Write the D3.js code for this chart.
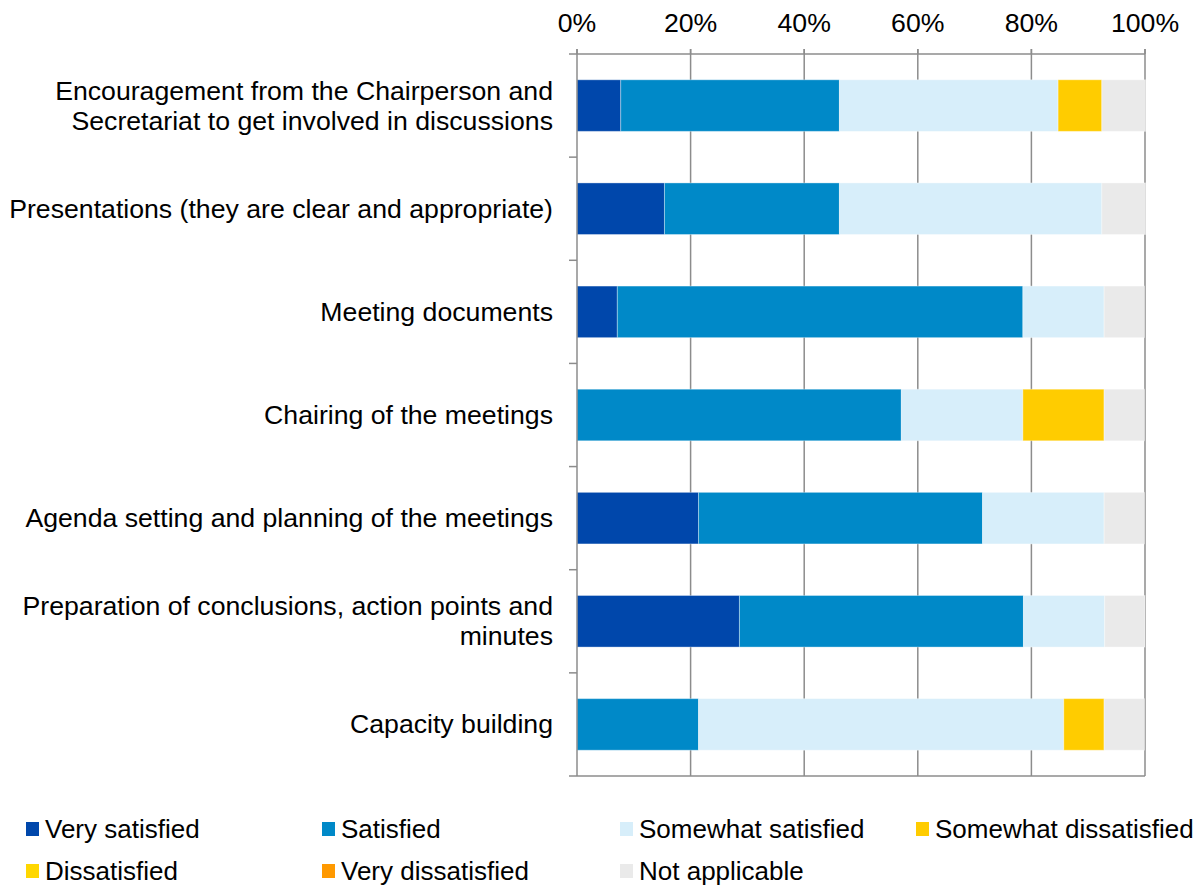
<!DOCTYPE html>
<html>
<head>
<meta charset="utf-8">
<script src="https://cdn.jsdelivr.net/npm/d3@7"></script>
<style>
  body { margin: 0; background: #fff; }
  text { font-family: "Liberation Sans", Arial, sans-serif; fill: #000; }
</style>
</head>
<body>
<script>
// categories (top to bottom), label lines
var categories = [
  ["Encouragement from the Chairperson and", "Secretariat to get involved in discussions"],
  ["Presentations (they are clear and appropriate)"],
  ["Meeting documents"],
  ["Chairing of the meetings"],
  ["Agenda setting and planning of the meetings"],
  ["Preparation of conclusions, action points and", "minutes"],
  ["Capacity building"]
];

var seriesNames = ["Very satisfied", "Satisfied", "Somewhat satisfied", "Somewhat dissatisfied",
                   "Dissatisfied", "Very dissatisfied", "Not applicable"];
var seriesColors = ["#0047ab", "#0089c8", "#d7eefa", "#ffcc00", "#ffd700", "#ff9900", "#eaeaea"];

// percentages per series, one value per category
var verySatisfied        = [7.7, 15.4, 7.1, 0, 21.4, 28.6, 0];
var satisfied            = [38.5, 30.8, 71.4, 57.1, 50.0, 50.0, 21.4];
var somewhatSatisfied    = [38.5, 46.2, 14.3, 21.4, 21.4, 14.3, 64.3];
var somewhatDissatisfied = [7.7, 0, 0, 14.3, 0, 0, 7.1];
var dissatisfied         = [0, 0, 0, 0, 0, 0, 0];
var veryDissatisfied     = [0, 0, 0, 0, 0, 0, 0];
var notApplicable        = [7.7, 7.7, 7.1, 7.1, 7.1, 7.1, 7.1];

var xTicks = [0, 20, 40, 60, 80, 100];

var seriesValues = [verySatisfied, satisfied, somewhatSatisfied, somewhatDissatisfied,
                    dissatisfied, veryDissatisfied, notApplicable];

var rows = categories.map(function (c, i) {
  var r = { idx: i };
  seriesNames.forEach(function (s, j) { r[s] = seriesValues[j][i]; });
  return r;
});

var width = 1203, height = 887;
var plotLeft = 577, plotRight = 1145, plotTop = 54, plotBottom = 776;
var axisColor = "#8c8c8c";
var fontSize = "26.67px";

var svg = d3.select("body").append("svg").attr("width", width).attr("height", height);

var x = d3.scaleLinear().domain([0, 100]).range([plotLeft, plotRight]);
var y = d3.scaleBand().domain(d3.range(categories.length)).range([plotTop, plotBottom])
          .paddingInner(0.5).paddingOuter(0.25);

// gridlines
svg.selectAll("line.grid")
  .data(xTicks.slice(1))
  .enter().append("line")
  .attr("class", "grid")
  .attr("x1", function (d) { return x(d); })
  .attr("x2", function (d) { return x(d); })
  .attr("y1", plotTop - 5)
  .attr("y2", plotBottom)
  .attr("stroke", axisColor)
  .attr("stroke-width", 1.5);

// stacked bars
var stack = d3.stack().keys(seriesNames)(rows);

svg.selectAll("g.series")
  .data(stack)
  .enter().append("g")
  .attr("class", "series")
  .attr("fill", function (d, i) { return seriesColors[i]; })
  .selectAll("rect")
  .data(function (d) { return d.filter(function (p) { return p[1] - p[0] > 0; }); })
  .enter().append("rect")
  .attr("x", function (d) { return x(d[0]); })
  .attr("y", function (d) { return y(d.data.idx); })
  .attr("width", function (d) { return x(d[1]) - x(d[0]); })
  .attr("height", y.bandwidth())
  .attr("stroke", "#ffffff")
  .attr("stroke-opacity", 0.35)
  .attr("stroke-width", 1);

// top axis line and ticks
svg.append("line")
  .attr("x1", plotLeft).attr("x2", plotRight).attr("y1", plotTop).attr("y2", plotTop)
  .attr("stroke", axisColor).attr("stroke-width", 1.5);
svg.selectAll("line.xtick")
  .data(xTicks)
  .enter().append("line")
  .attr("class", "xtick")
  .attr("x1", function (d) { return x(d); })
  .attr("x2", function (d) { return x(d); })
  .attr("y1", plotTop - 5).attr("y2", plotTop)
  .attr("stroke", axisColor).attr("stroke-width", 1.5);

svg.selectAll("text.xlabel")
  .data(xTicks)
  .enter().append("text")
  .attr("class", "xlabel")
  .attr("x", function (d) { return x(d); })
  .attr("y", 32)
  .attr("text-anchor", "middle")
  .attr("font-size", fontSize)
  .text(function (d) { return d + "%"; });

// bottom line
svg.append("line")
  .attr("x1", plotLeft).attr("x2", plotRight).attr("y1", plotBottom).attr("y2", plotBottom)
  .attr("stroke", axisColor).attr("stroke-width", 1.5);

// left axis with category boundary ticks
svg.append("line")
  .attr("x1", plotLeft).attr("x2", plotLeft).attr("y1", plotTop - 5).attr("y2", plotBottom)
  .attr("stroke", axisColor).attr("stroke-width", 1.5);
var step = (plotBottom - plotTop) / categories.length;
svg.selectAll("line.ytick")
  .data(d3.range(categories.length + 1))
  .enter().append("line")
  .attr("class", "ytick")
  .attr("x1", plotLeft - 8).attr("x2", plotLeft)
  .attr("y1", function (d) { return plotTop + d * step; })
  .attr("y2", function (d) { return plotTop + d * step; })
  .attr("stroke", axisColor).attr("stroke-width", 1.5);

// category labels
var labels = svg.selectAll("text.ylabel")
  .data(categories)
  .enter().append("text")
  .attr("class", "ylabel")
  .attr("text-anchor", "end")
  .attr("font-size", fontSize);

labels.selectAll("tspan")
  .data(function (d, i) {
    return d.map(function (line, k) { return { line: line, k: k, n: d.length, i: i }; });
  })
  .enter().append("tspan")
  .attr("x", 553)
  .attr("y", function (d) {
    var c = y(d.i) + y.bandwidth() / 2;
    return c + (d.k - (d.n - 1) / 2) * 30 + 9;
  })
  .text(function (d) { return d.line; });

// legend
var legendX = [26, 322, 620, 916];
var legendY = [829, 871];
var legend = svg.selectAll("g.legend")
  .data(seriesNames)
  .enter().append("g")
  .attr("class", "legend")
  .attr("transform", function (d, i) {
    return "translate(" + legendX[i % 4] + "," + legendY[Math.floor(i / 4)] + ")";
  });

legend.append("rect")
  .attr("x", 0).attr("y", -7).attr("width", 13).attr("height", 14)
  .attr("fill", function (d, i) { return seriesColors[i]; });

legend.append("text")
  .attr("x", 19).attr("y", 9)
  .attr("font-size", "26px")
  .text(function (d) { return d; });
</script>
</body>
</html>
